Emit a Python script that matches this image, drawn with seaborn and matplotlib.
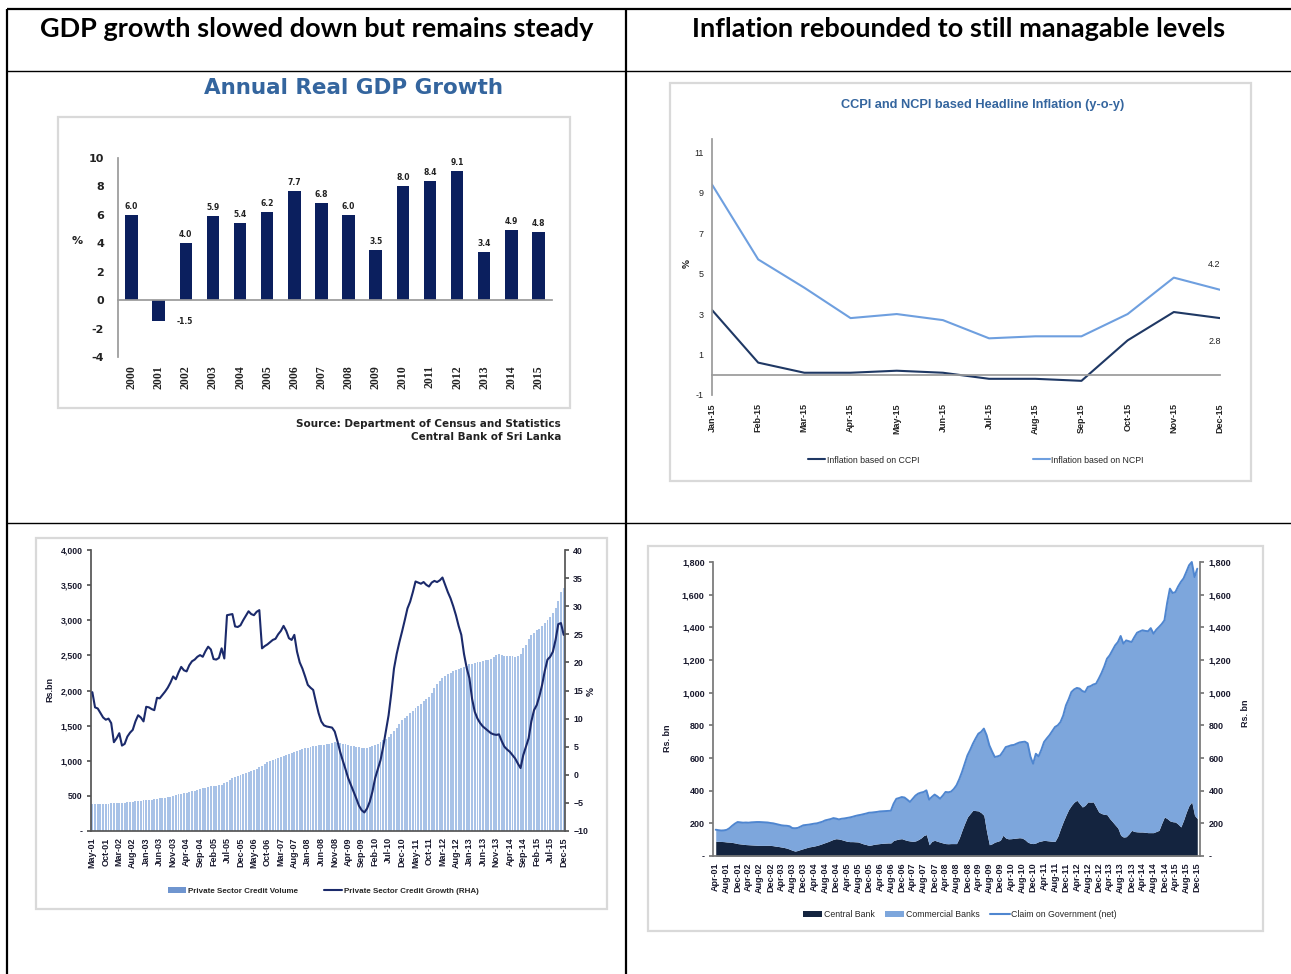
import numpy as np
import pandas as pd
import matplotlib
matplotlib.use("Agg")
import matplotlib.pyplot as plt
import seaborn as sns
from matplotlib.patches import Rectangle, Patch
from matplotlib.lines import Line2D
from matplotlib.ticker import FuncFormatter

sns.set_theme(style="white")
plt.rcParams["font.family"] = ["DejaVu Sans"]

W, H = 1291, 974
NARROW = ["Liberation Sans Narrow", "Liberation Sans", "DejaVu Sans"]
HEAD = ["Lato", "DejaVu Sans"]

# ---------------- data ----------------
header_left = "GDP growth slowed down but remains steady"
header_right = "Inflation rebounded to still managable levels"

gdp_years = ["2000", "2001", "2002", "2003", "2004", "2005", "2006", "2007",
             "2008", "2009", "2010", "2011", "2012", "2013", "2014", "2015"]
gdp_growth = [6.0, -1.5, 4.0, 5.9, 5.4, 6.2, 7.7, 6.8, 6.0, 3.5, 8.0, 8.4, 9.1, 3.4, 4.9, 4.8]

infl_months = ["Jan-15", "Feb-15", "Mar-15", "Apr-15", "May-15", "Jun-15",
               "Jul-15", "Aug-15", "Sep-15", "Oct-15", "Nov-15", "Dec-15"]
ccpi = [3.2, 0.6, 0.1, 0.1, 0.2, 0.1, -0.2, -0.2, -0.3, 1.7, 3.1, 2.8]
ncpi = [9.4, 5.7, 4.3, 2.8, 3.0, 2.7, 1.8, 1.9, 1.9, 3.0, 4.8, 4.2]

# Private sector credit, monthly May-01 .. Dec-15
credit_volume = (
    [384, 385, 386, 387, 388, 389, 390, 392] +
    [393, 394, 394, 398, 402, 406, 410, 418, 422, 426, 430, 436] +
    [441, 443, 446, 452, 458, 465, 470, 476, 482, 490, 503, 510] +
    [520, 528, 537, 546, 556, 566, 576, 586, 598, 607, 618, 628] +
    [635, 640, 645, 650, 660, 680, 702, 730, 755, 770, 785, 797] +
    [810, 820, 835, 850, 868, 888, 905, 925, 950, 977, 995, 1010] +
    [1030, 1045, 1058, 1072, 1085, 1100, 1115, 1129, 1140, 1155, 1165, 1178] +
    [1186, 1195, 1203, 1210, 1218, 1224, 1230, 1238, 1245, 1252, 1262, 1258] +
    [1250, 1240, 1232, 1224, 1215, 1205, 1195, 1190, 1186, 1180, 1185, 1195] +
    [1205, 1224, 1240, 1260, 1290, 1315, 1343, 1380, 1420, 1470, 1520, 1580] +
    [1610, 1640, 1680, 1710, 1746, 1780, 1810, 1845, 1880, 1912, 1970, 2040] +
    [2090, 2130, 2173, 2200, 2230, 2255, 2275, 2292, 2305, 2320, 2340, 2355] +
    [2372, 2380, 2390, 2400, 2410, 2420, 2430, 2440, 2455, 2470, 2505, 2520] +
    [2500, 2490, 2485, 2495, 2490, 2480, 2485, 2520, 2600, 2650, 2730, 2790] +
    [2820, 2860, 2880, 2920, 2960, 3000, 3050, 3100, 3180, 3280, 3400, 3454]
)
credit_growth = (
    [14.7, 12.0, 11.8, 11.0, 10.2, 9.8, 10.0, 9.2] +
    [5.8, 6.5, 7.4, 5.2, 5.5, 6.8, 7.5, 8.0, 9.5, 10.6, 10.2, 9.5] +
    [12.1, 12.0, 11.7, 11.5, 13.7, 13.6, 14.2, 14.8, 15.5, 16.4, 17.5, 17.0] +
    [18.2, 19.2, 18.6, 18.4, 19.5, 20.2, 20.5, 21.0, 21.3, 21.0, 22.0, 22.8] +
    [22.3, 20.6, 20.5, 20.8, 22.5, 20.7, 28.4, 28.5, 28.6, 26.4, 26.3, 26.6] +
    [27.5, 28.3, 29.1, 28.6, 28.4, 29.0, 29.3, 22.5, 22.9, 23.2, 23.6, 24.0] +
    [24.2, 25.0, 25.6, 26.5, 25.6, 24.3, 24.0, 24.9, 21.9, 20.0, 18.9, 17.5] +
    [16.0, 15.5, 15.1, 13.0, 11.0, 9.5, 8.8, 8.6, 8.5, 8.4, 7.7, 6.0] +
    [4.1, 2.5, 1.0, -0.6, -1.8, -3.0, -4.2, -5.5, -6.3, -6.7, -6.0, -4.8] +
    [-3.0, -0.6, 1.0, 2.6, 5.0, 7.8, 10.6, 14.5, 18.9, 21.5, 23.6, 25.5] +
    [27.5, 29.6, 30.8, 32.5, 34.4, 34.2, 34.0, 34.3, 33.8, 33.5, 34.2, 34.5] +
    [34.3, 34.6, 35.1, 33.8, 32.5, 31.4, 30.0, 28.4, 26.5, 24.9, 21.5, 19.0] +
    [17.2, 13.5, 11.2, 10.0, 9.2, 8.6, 8.2, 7.8, 7.4, 7.2, 7.1, 7.2] +
    [6.0, 5.0, 4.5, 4.1, 3.5, 2.9, 2.0, 1.2, 3.5, 5.0, 6.5, 9.5] +
    [11.5, 12.4, 14.0, 16.0, 18.5, 20.5, 21.0, 21.9, 24.0, 26.8, 27.0, 24.9]
)
credit_start = "2001-05"

# Claim on government (net), monthly Apr-01 .. Dec-15, Rs. bn
claim_total = (
    [161, 158, 156, 157, 160, 170, 185, 198, 208] +
    [206, 204, 205, 204, 206, 207, 208, 208, 207, 206, 205, 202] +
    [200, 196, 192, 188, 186, 185, 182, 171, 170, 172, 180, 188] +
    [190, 192, 195, 198, 200, 205, 210, 218, 222, 226, 232, 229] +
    [224, 228, 230, 233, 236, 240, 245, 249, 252, 256, 260, 265] +
    [266, 268, 270, 273, 274, 275, 276, 277, 320, 350, 355, 361] +
    [358, 345, 331, 350, 370, 382, 388, 392, 402, 345, 362, 376] +
    [365, 351, 370, 392, 390, 394, 410, 433, 470, 514, 565, 616] +
    [650, 688, 720, 749, 760, 780, 740, 678, 640, 606, 610, 616] +
    [640, 667, 672, 678, 680, 688, 695, 698, 700, 690, 610, 565] +
    [626, 610, 650, 698, 720, 740, 765, 790, 800, 820, 860, 922] +
    [960, 1004, 1020, 1029, 1025, 1010, 1004, 1035, 1040, 1050, 1055, 1086] +
    [1120, 1160, 1208, 1229, 1260, 1290, 1310, 1347, 1300, 1320, 1315, 1310] +
    [1340, 1367, 1375, 1382, 1378, 1376, 1395, 1361, 1385, 1402, 1420, 1443] +
    [1550, 1637, 1610, 1616, 1650, 1678, 1700, 1739, 1780, 1800, 1708, 1759]
)
claim_central_bank = (
    [90, 90, 89, 88, 86, 85, 83, 80, 76] +
    [74, 72, 70, 69, 68, 67, 66, 65, 65, 65, 66, 65] +
    [63, 60, 58, 55, 52, 48, 42, 35, 30, 34, 40, 45] +
    [50, 55, 58, 61, 65, 70, 76, 82, 88, 95, 102, 106] +
    [104, 100, 95, 90, 88, 88, 87, 86, 80, 74, 70, 65] +
    [68, 72, 74, 76, 78, 79, 80, 80, 95, 100, 104, 106] +
    [100, 95, 92, 90, 92, 100, 110, 125, 131, 69, 90, 96] +
    [90, 85, 80, 76, 75, 76, 76, 76, 110, 157, 200, 239] +
    [260, 280, 278, 276, 265, 249, 150, 69, 75, 85, 90, 96] +
    [127, 110, 105, 106, 108, 110, 112, 110, 100, 85, 78, 76] +
    [80, 88, 92, 96, 94, 92, 90, 90, 120, 167, 210, 249] +
    [285, 310, 330, 341, 320, 300, 310, 331, 330, 331, 300, 269] +
    [260, 255, 253, 229, 210, 190, 171, 127, 116, 118, 135, 157] +
    [150, 148, 147, 147, 145, 143, 143, 143, 150, 157, 200, 239] +
    [229, 215, 210, 208, 195, 178, 220, 269, 310, 331, 249, 229]
)
claim_start = "2001-04"

# ---------------- helpers ----------------
def px_rect(x0, y0, x1, y1):
    return [x0 / W, 1 - y1 / H, (x1 - x0) / W, (y1 - y0) / H]

def thousands(v, pos=None):
    return "-" if abs(v) < 1e-9 else f"{v:,.0f}"

fig = plt.figure(figsize=(W / 100, H / 100), dpi=100)
fig.patch.set_facecolor("white")

bg = fig.add_axes([0, 0, 1, 1])
bg.set_xlim(0, W)
bg.set_ylim(H, 0)
bg.axis("off")
bg.patch.set_alpha(0)

# table grid
bg.plot([7, W], [9, 9], color="black", lw=1.6, solid_capstyle="butt")
bg.plot([7, 7], [9, H], color="black", lw=1.6, solid_capstyle="butt")
bg.plot([626, 626], [9, H], color="black", lw=1.6, solid_capstyle="butt")
bg.plot([7, W], [71, 71], color="black", lw=1.0, solid_capstyle="butt")
bg.plot([7, W], [523, 523], color="black", lw=1.0, solid_capstyle="butt")

bg.text(317, 29, header_left, ha="center", va="center", fontsize=19.5,
        fontweight="bold", family=HEAD, color="black")
bg.text(959, 29, header_right, ha="center", va="center", fontsize=19.5,
        fontweight="bold", family=HEAD, color="black")

for (x0, y0, x1, y1) in [(58, 117, 570, 408), (670, 83, 1251, 481),
                         (36, 538, 607, 909), (648, 546, 1263, 931)]:
    bg.add_patch(Rectangle((x0, y0), x1 - x0, y1 - y0, fill=False,
                           ec="#D9D9D9", lw=1.6))

AXC = "#9A9A9A"

# ---------------- chart 1: GDP bars ----------------
bg.text(353, 88, "Annual Real GDP Growth", ha="center", va="center",
        fontsize=15.5, fontweight="bold", color="#34659E")
bg.text(561, 424, "Source: Department of Census and Statistics", ha="right",
        va="center", fontsize=7.5, fontweight="bold", color="#222222")
bg.text(561, 437, "Central Bank of Sri Lanka", ha="right",
        va="center", fontsize=7.5, fontweight="bold", color="#222222")
bg.text(77, 241, "%", ha="center", va="center", fontsize=8,
        fontweight="bold", color="#222222")

ax1 = fig.add_axes(px_rect(118, 158, 552, 357))
df_gdp = pd.DataFrame({"year": gdp_years, "growth": gdp_growth})
sns.barplot(data=df_gdp, x="year", y="growth", color="#0B1F5E", saturation=1,
            width=0.46, linewidth=0, ax=ax1)
ax1.set_xlim(-0.5, len(gdp_years) - 0.5)
ax1.set_ylim(-4, 10)
ax1.set_xlabel("")
ax1.set_ylabel("")
for s in ["top", "right"]:
    ax1.spines[s].set_visible(False)
ax1.spines["left"].set_color(AXC)
ax1.spines["bottom"].set_color(AXC)
ax1.spines["bottom"].set_position(("data", 0))
ax1.set_xticks(np.arange(-0.5, len(gdp_years), 1))
ax1.set_xticklabels([])
ax1.tick_params(axis="x", direction="out", length=3.5, color=AXC, width=1)
ax1.set_yticks(np.arange(-4, 11, 2))
ax1.set_yticklabels([str(v) for v in range(-4, 11, 2)], fontsize=8,
                    fontweight="bold", color="#222222")
ax1.tick_params(axis="y", direction="out", length=4, color=AXC, width=1, pad=6)
for i, yr in enumerate(gdp_years):
    ax1.text(i, -0.04, yr, transform=ax1.get_xaxis_transform(), rotation=90,
             ha="center", va="top", fontsize=8.5, fontweight="bold",
             family=["Liberation Serif", "DejaVu Serif"], color="#222222")
for i, v in enumerate(gdp_growth):
    if v >= 0:
        ax1.annotate(f"{v:.1f}", (i, v), xytext=(0, 3), textcoords="offset points",
                     ha="center", va="bottom", fontsize=5.5, fontweight="bold",
                     color="#222222")
    else:
        ax1.annotate(f"{v:.1f}", (i, v), xytext=(19, 0), textcoords="offset points",
                     ha="center", va="center", fontsize=5.5, fontweight="bold",
                     color="#222222")

# ---------------- chart 2: inflation ----------------
bg.text(983, 105, "CCPI and NCPI based Headline Inflation (y-o-y)", ha="center",
        va="center", fontsize=9.2, fontweight="bold", family=NARROW,
        color="#34659E")
bg.text(687, 264, "%", ha="center", va="center", fontsize=6.5, rotation=90,
        fontweight="bold", color="#222222")

ax2 = fig.add_axes(px_rect(712, 139, 1220, 395))
mi = np.arange(len(infl_months))
sns.lineplot(x=mi, y=ccpi, color="#1F3864", lw=1.5, ax=ax2,
             label="Inflation based on CCPI")
sns.lineplot(x=mi, y=ncpi, color="#6E9FDF", lw=1.5, ax=ax2,
             label="Inflation based on NCPI")
ax2.set_xlim(0, 11)
ax2.set_ylim(-1, 11.65)
for s in ["top", "right"]:
    ax2.spines[s].set_visible(False)
ax2.spines["left"].set_color(AXC)
ax2.spines["bottom"].set_color(AXC)
ax2.spines["bottom"].set_position(("data", 0))
ax2.set_xticks(mi)
ax2.set_xticklabels([])
ax2.tick_params(axis="x", direction="out", length=3, color=AXC, width=1)
ax2.set_yticks([-1, 1, 3, 5, 7, 9, 11])
ax2.set_yticklabels(["-1", "1", "3", "5", "7", "9", "11"], fontsize=6.5,
                    family=NARROW, color="#222222")
ax2.tick_params(axis="y", direction="out", length=3, color=AXC, width=1, pad=3)
sec2 = ax2.secondary_xaxis("bottom")
sec2.set_xticks(mi)
sec2.set_xticklabels(infl_months, rotation=90, fontsize=6.5, family=NARROW,
                     fontweight="bold", color="#222222")
sec2.spines["bottom"].set_visible(False)
sec2.tick_params(length=0, pad=6)
ax2.annotate(f"{ncpi[-1]:.1f}", (mi[-1], ncpi[-1]), xytext=(-4, 18),
             textcoords="offset points", ha="center", va="center", fontsize=6.5,
             family=NARROW, color="#222222")
ax2.annotate(f"{ccpi[-1]:.1f}", (mi[-1], ccpi[-1]), xytext=(-4, -17),
             textcoords="offset points", ha="center", va="center", fontsize=6.5,
             family=NARROW, color="#222222")
ax2.set_xlabel("")
ax2.set_ylabel("")
ax2.legend(loc="center", bbox_to_anchor=(0.52, -0.254), ncol=2, frameon=False,
           prop={"family": NARROW, "size": 6.3}, handlelength=1.9,
           columnspacing=13, handletextpad=0.2)

# ---------------- chart 3: private sector credit ----------------
cdates = pd.date_range(credit_start, periods=len(credit_volume), freq="MS")
cidx = np.arange(len(credit_volume))
ax3 = fig.add_axes(px_rect(91, 550, 565, 831))
sns.barplot(x=cidx, y=credit_volume, color="#A8C2E7", saturation=1, width=0.72,
            linewidth=0, edgecolor="none", ax=ax3, native_scale=True)
ax3.set_xlim(-0.5, len(cidx) - 0.5)
ax3.set_ylim(0, 4000)
ax3r = ax3.twinx()
sns.lineplot(x=cidx, y=credit_growth, color="#1B2A6B", lw=1.5, ax=ax3r)
ax3r.set_ylim(-10, 40)
ax3r.set_xlim(-0.5, len(cidx) - 0.5)
for a in (ax3, ax3r):
    a.spines["top"].set_visible(False)
    a.set_xlabel("")
    a.set_ylabel("")
ax3.spines["right"].set_visible(False)
ax3r.spines["left"].set_visible(False)
ax3.spines["left"].set_color("#555555")
ax3r.spines["right"].set_color("#555555")
ax3.spines["bottom"].set_color("#555555")
ax3r.spines["bottom"].set_visible(False)
ctick = cidx[::5]
ax3.set_xticks(ctick)
ax3.set_xticklabels([cdates[i].strftime("%b-%y") for i in ctick], rotation=90,
                    fontsize=6.5, fontweight="bold", family=NARROW, color="#1A1A2E")
ax3.tick_params(axis="x", direction="out", length=2.5, color="#555555", pad=2)
ax3.set_yticks(np.arange(0, 4001, 500))
ax3.yaxis.set_major_formatter(FuncFormatter(thousands))
ax3.tick_params(axis="y", direction="out", length=3, color="#555555", pad=3,
                labelsize=6.3)
ax3r.set_yticks(np.arange(-10, 41, 5))
ax3r.tick_params(axis="y", direction="out", length=3, color="#555555", pad=3,
                 labelsize=6.3)
for lab in ax3.get_yticklabels() + ax3r.get_yticklabels():
    lab.set_family(NARROW)
    lab.set_fontweight("bold")
    lab.set_color("#1A1A2E")
bg.text(50, 690, "Rs.bn", ha="center", va="center", rotation=90, fontsize=6.5,
        fontweight="bold", family=NARROW, color="#1A1A2E")
bg.text(591, 691, "%", ha="center", va="center", rotation=90, fontsize=6.5,
        fontweight="bold", color="#1A1A2E")
h3 = [Patch(facecolor="#6F95CF", edgecolor="none"),
      Line2D([0], [0], color="#1B2A6B", lw=1.5)]
ax3.legend(h3, ["Private Sector Credit Volume", "Private Sector Credit Growth (RHA)"],
           loc="center", bbox_to_anchor=(0.49, -0.214), ncol=2, frameon=False,
           prop={"family": NARROW, "size": 5.8, "weight": "bold"},
           handlelength=2.3, handleheight=0.6, columnspacing=3.2, handletextpad=0.2)

# ---------------- chart 4: claim on government ----------------
gdates = pd.date_range(claim_start, periods=len(claim_total), freq="MS")
gidx = np.arange(len(claim_total))
ax4 = fig.add_axes(px_rect(713, 562, 1200, 856))
ax4.fill_between(gidx, 0, claim_central_bank, color="#14243F", lw=0,
                 label="Central Bank")
ax4.fill_between(gidx, claim_central_bank, claim_total, color="#7DA6DC", lw=0,
                 label="Commercial Banks")
sns.lineplot(x=gidx, y=claim_total, color="#4F86D0", lw=1.4, ax=ax4,
             label="Claim on Government (net)")
for ln in ax4.get_lines():
    ln.set_clip_on(False)
ax4.set_xlim(-1, len(gidx))
ax4.set_ylim(0, 1800)
ax4r = ax4.twinx()
ax4r.set_ylim(0, 1800)
for a in (ax4, ax4r):
    a.spines["top"].set_visible(False)
    a.set_xlabel("")
    a.set_ylabel("")
ax4.spines["right"].set_visible(False)
ax4r.spines["left"].set_visible(False)
ax4r.spines["bottom"].set_visible(False)
ax4.spines["left"].set_color("#777777")
ax4r.spines["right"].set_color("#777777")
ax4.spines["bottom"].set_color("#777777")
gtick = gidx[::4]
ax4.set_xticks(gtick)
ax4.set_xticklabels([gdates[i].strftime("%b-%y") for i in gtick], rotation=90,
                    fontsize=6.5, fontweight="bold", family=NARROW, color="#1A1A2E")
ax4.tick_params(axis="x", direction="out", length=2.5, color="#777777", pad=2)
for a in (ax4, ax4r):
    a.set_yticks(np.arange(0, 1801, 200))
    a.yaxis.set_major_formatter(FuncFormatter(thousands))
    a.tick_params(axis="y", direction="out", length=3, color="#777777", pad=3,
                  labelsize=6.5)
for lab in ax4.get_yticklabels() + ax4r.get_yticklabels():
    lab.set_family(NARROW)
    lab.set_fontweight("bold")
    lab.set_color("#1A1A2E")
bg.text(667, 738, "Rs. bn", ha="center", va="center", rotation=90, fontsize=6.5,
        fontweight="bold", family=NARROW, color="#1A1A2E")
bg.text(1245, 713, "Rs. bn", ha="center", va="center", rotation=90, fontsize=6.5,
        fontweight="bold", family=NARROW, color="#1A1A2E")
h4 = [Patch(facecolor="#14243F", edgecolor="none"),
      Patch(facecolor="#7DA6DC", edgecolor="none"),
      Line2D([0], [0], color="#4F86D0", lw=1.5)]
ax4.legend(h4, ["Central Bank", "Commercial Banks", "Claim on Government (net)"],
           loc="center", bbox_to_anchor=(0.507, -0.2), ncol=3, frameon=False,
           prop={"family": NARROW, "size": 6.3},
           handlelength=2.2, handleheight=0.7, columnspacing=1.2, handletextpad=0.2)

fig.savefig("out.png", dpi=100, facecolor="white")
